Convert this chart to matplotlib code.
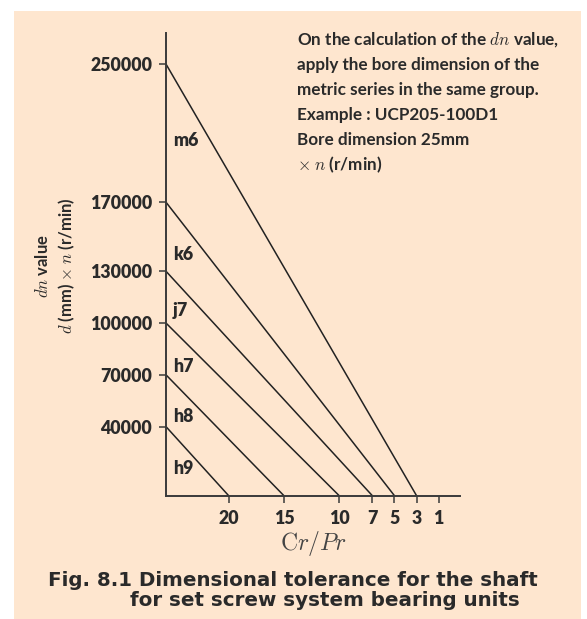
import matplotlib
matplotlib.use("Agg")
import matplotlib.pyplot as plt
from matplotlib.patches import Rectangle

plt.rcParams['font.family'] = ['Lato', 'DejaVu Sans']
plt.rcParams['mathtext.fontset'] = 'cm'

# data
classes = ['m6', 'k6', 'j7', 'h7', 'h8', 'h9']
dn_values = [250000, 170000, 130000, 100000, 70000, 40000]
crpr_values = [3, 5, 7, 10, 15, 20]
x_ticks = [20, 15, 10, 7, 5, 3, 1]

note_lines = [
    r"On the calculation of the $dn$ value,",
    "apply the bore dimension of the",
    "metric series in the same group.",
    "Example : UCP205-100D1",
    "Bore dimension 25mm",
    r"$\times$ $n$ (r/min)",
]

txt = '#2a2a2a'
bg = '#fee6cf'

fig = plt.figure(figsize=(5.87, 6.19), dpi=100)
fig.patch.set_facecolor('white')
W, H = 587, 619
fig.patches.append(Rectangle((14 / W, 0), (581 - 14) / W, (H - 11) / H,
                             transform=fig.transFigure, facecolor=bg,
                             edgecolor='none', zorder=-5))

ax = fig.add_axes([166 / W, 1 - 495.7 / H, (460 - 166) / W, (495.7 - 33) / H])
ax.set_zorder(2)
ax.set_facecolor('none')
x_left, x_right = 25.67, -0.93
ax.set_xlim(x_left, x_right)
ax.set_ylim(0, 268000)

for dn, cp in zip(dn_values, crpr_values):
    ax.plot([x_left, cp], [dn, 0], color='#222222', lw=1.1, solid_capstyle='butt')

# class labels, just right of the y axis
label_y = [206000, 139500, 107500, 74700, 45700, 15500]
for name, ly in zip(classes, label_y):
    ax.text(25.05, ly, name, ha='left', va='center', fontsize=12.8,
            fontweight='heavy', color=txt)

for s in ['top', 'right']:
    ax.spines[s].set_visible(False)
for s in ['left', 'bottom']:
    ax.spines[s].set_color('#3a3a3a')
    ax.spines[s].set_linewidth(1.4)

ax.set_xticks(x_ticks)
ax.set_xticklabels([str(v) for v in x_ticks])
ax.set_yticks(dn_values)
ax.set_yticklabels([str(v) for v in dn_values])
ax.tick_params(length=5, width=1.1, color='#3a3a3a', labelsize=12.8,
               labelcolor=txt)
ax.tick_params(axis='y', pad=5)
ax.tick_params(axis='x', pad=5)
for lab in ax.get_xticklabels() + ax.get_yticklabels():
    lab.set_fontweight('heavy')

ax.set_xlabel(r"$\mathrm{C}r/Pr$", fontsize=17, color='#444444', labelpad=2)

# y label in two rotated lines
fig.text(43 / W, 1 - 266 / H, r"$dn$ value", rotation=90, ha='center',
         va='center', fontsize=12, fontweight='bold', color=txt)
fig.text(67 / W, 1 - 266 / H, r"$d$ (mm) $\times$ $n$ (r/min)", rotation=90,
         ha='center', va='center', fontsize=12, fontweight='bold', color=txt)

# note block
for i, line in enumerate(note_lines):
    fig.text(296.7 / W, 1 - (40 + 25 * i) / H, line, ha='left', va='center',
             fontsize=12.3, fontweight='bold', color=txt)

# caption
cap = dict(ha='left', va='center', fontsize=14.3, fontweight='bold', color=txt,
           family=['DejaVu Sans'])
fig.text(48 / W, 1 - 580 / H, "Fig. 8.1 Dimensional tolerance for the shaft", **cap)
fig.text(130 / W, 1 - 600 / H, "for set screw system bearing units", **cap)

fig.savefig('out.png', dpi=100, facecolor=fig.get_facecolor())
